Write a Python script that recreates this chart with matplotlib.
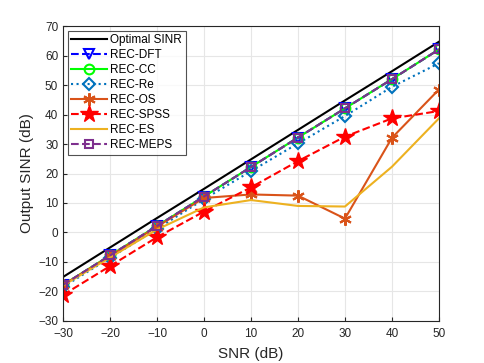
import matplotlib
matplotlib.use("Agg")
import matplotlib.pyplot as plt

plt.rcParams["font.family"] = ["Liberation Sans", "DejaVu Sans"]

snr = [-30, -20, -10, 0, 10, 20, 30, 40, 50]

optimal = [-15.1, -5.1, 4.9, 14.8, 24.8, 34.8, 44.8, 54.7, 64.7]
rec_dft = [-17.8, -7.8, 2.2, 12.2, 22.2, 32.2, 42.1, 52.0, 62.1]
rec_cc = [-17.8, -7.8, 2.2, 12.2, 22.2, 32.2, 42.1, 52.0, 62.1]
rec_re = [-18.5, -8.6, 1.2, 11.3, 20.8, 30.2, 39.5, 49.4, 57.4]
rec_os = [-17.8, -8.0, 2.0, 11.7, 12.9, 12.5, 4.7, 32.1, 48.5]
rec_spss = [-21.2, -11.4, -1.6, 7.1, 15.3, 24.2, 32.5, 38.7, 41.2]
rec_es = [-18.0, -8.5, 1.0, 8.5, 11.0, 9.0, 8.8, 22.3, 38.7]
rec_meps = [-17.8, -7.8, 2.2, 12.2, 22.2, 32.2, 42.1, 52.0, 62.1]

x_ticks = [-30, -20, -10, 0, 10, 20, 30, 40, 50]
y_ticks = [-30, -20, -10, 0, 10, 20, 30, 40, 50, 60, 70]

fig = plt.figure(figsize=(4.85, 3.63), dpi=100)
ax = fig.add_axes([0.130, 0.116, 0.775, 0.812])

lw = 1.5
ax.plot(snr, optimal, color="black", lw=lw, label="Optimal SINR")
ax.plot(snr, rec_dft, color="blue", ls="--", lw=lw, marker="v", ms=7,
        mfc="none", mew=1.5, label="REC-DFT")
ax.plot(snr, rec_cc, color="#00FF00", ls="-", lw=lw, marker="o", ms=7,
        mfc="none", mew=1.5, label="REC-CC")
ax.plot(snr, rec_re, color="#0072BD", ls=":", lw=lw, marker="D", ms=6,
        mfc="none", mew=1.5, label="REC-Re")
ax.plot(snr, rec_os, color="#D95319", ls="-", lw=lw, marker=(6, 2, 0), ms=9,
        mew=1.5, label="REC-OS")
ax.plot(snr, rec_spss, color="red", ls="--", lw=lw, marker="*", ms=13,
        mfc="red", mew=1.0, label="REC-SPSS")
ax.plot(snr, rec_es, color="#EDB120", ls="-", lw=lw, label="REC-ES")
ax.plot(snr, rec_meps, color="#7E2F8E", ls="--", lw=lw, marker="s", ms=6,
        mfc="none", mew=1.5, label="REC-MEPS")

ax.set_xlim(-30, 50)
ax.set_ylim(-30, 70)
ax.set_xticks(x_ticks)
ax.set_yticks(y_ticks)
ax.tick_params(direction="in", labelsize=8.5, colors="#262626", length=3)
ax.tick_params(axis="x", pad=5)
ax.grid(True, color="#e6e6e6", lw=0.8)
ax.set_axisbelow(True)
for s in ax.spines.values():
    s.set_color("#262626")
    s.set_linewidth(0.8)

ax.set_xlabel("SNR (dB)", fontsize=11, color="#262626", labelpad=5)
ax.set_ylabel("Output SINR (dB)", fontsize=11, color="#262626", labelpad=3)

leg = ax.legend(loc="upper left", fontsize=8.5, frameon=True, fancybox=False,
                edgecolor="#262626", handlelength=3.0, borderpad=0.3,
                labelspacing=0.25, handletextpad=0.3, borderaxespad=0.4)
leg.get_frame().set_linewidth(0.8)

fig.savefig("out.png", dpi=100)
